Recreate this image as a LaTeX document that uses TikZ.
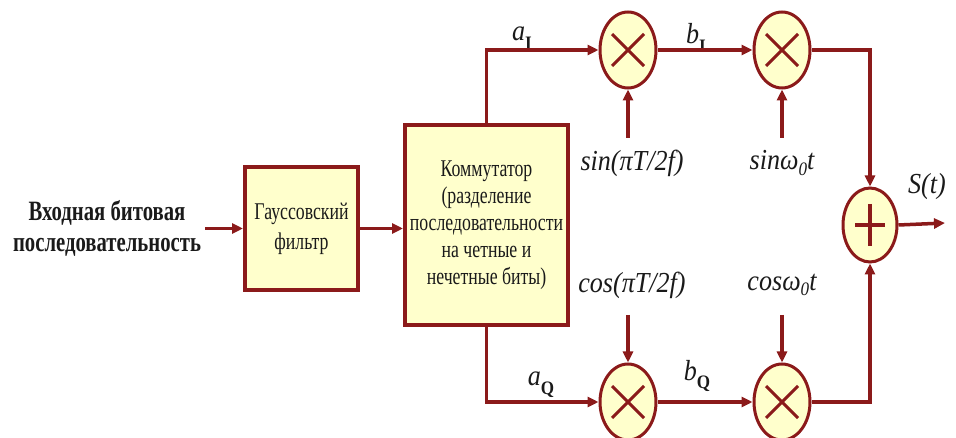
\documentclass[tikz,border=0pt]{standalone}
\usepackage{fontspec}
\setmainfont{Liberation Serif}
\newfontfamily\narrowserif[FakeStretch=0.74]{Liberation Serif}
\newfontfamily\labelserif[FakeStretch=0.9]{Liberation Serif}
\usetikzlibrary{arrows.meta,shapes.geometric}
\definecolor{linered}{HTML}{8B1A1A}
\definecolor{boxfill}{HTML}{FFFFCC}
\definecolor{ink}{HTML}{1A1A1A}
\tikzset{
  wire/.style={draw=linered, line width=3.5pt, -{Triangle[length=11pt,width=10pt]}},
  block/.style={draw=linered, fill=boxfill, line width=4pt, rectangle, inner sep=0pt,
    align=center, text=ink, font=\narrowserif\fontsize{24}{27}\selectfont},
  mixer/.style={draw=linered, fill=boxfill, line width=3pt, ellipse,
    minimum width=56pt, minimum height=76pt, inner sep=0pt},
  times/.style={mixer, path picture={\draw[linered, line width=3pt]
    (path picture bounding box.center) +(-16,-16) -- +(16,16) +(-16,16) -- +(16,-16);}},
  plus/.style={mixer, minimum width=54pt, minimum height=74pt, path picture={\draw[linered, line width=3.5pt]
    (path picture bounding box.center) +(-15,0) -- +(15,0) +(0,-21) -- +(0,21);}},
  siglabel/.style={inner sep=0pt, text=ink, font=\labelserif\itshape\fontsize{29}{30}\selectfont},
}
\newcommand{\subup}[1]{\raisebox{-0.3em}{\upshape\bfseries\fontsize{19}{19}\selectfont #1}}
\newcommand{\subzero}{\raisebox{-0.2em}{\fontsize{19}{19}\selectfont 0}}
\begin{document}
\begin{tikzpicture}[x=1pt,y=-1pt]
  \useasboundingbox (0,0) rectangle (956,438);

  % input and processing blocks
  \node[align=center, inner sep=4pt, text=ink, font=\narrowserif\bfseries\fontsize{28}{31}\selectfont] (src) at (107,228)
    {Входная битовая\\последовательность};
  \node[block, minimum width=113pt, minimum height=123pt] (gauss) at (301.5,228.5)
    {Гауссовский\\[3pt]фильтр};
  \node[block, minimum width=163pt, minimum height=200pt] (comm) at (486.5,225)
    {Коммутатор\\(разделение\\последовательности\\на четные и\\нечетные биты)};

  % multipliers and adder
  \node[times] (m1) at (628,50) {};
  \node[times] (m2) at (782,50) {};
  \node[times] (m3) at (628,402) {};
  \node[times] (m4) at (782,402) {};
  \node[plus] (add) at (870,225) {};

  % carrier labels and their feed points
  \node[siglabel] (l1) at (632,163) {sin(πT/2f)};
  \node[siglabel] (l2) at (782,163) {sinω\subzero t};
  \node[siglabel] (l3) at (632,285) {cos(πT/2f)};
  \node[siglabel] (l4) at (782,285) {cosω\subzero t};
  \coordinate (f1) at (628,138);
  \coordinate (f2) at (782,138);
  \coordinate (f3) at (628,315);
  \coordinate (f4) at (782,315);
  \coordinate (out) at (945,223);

  % signal path labels
  \node[siglabel] (aI) at (522,38) {a\subup{I}};
  \node[siglabel] (bI) at (696,38) {b\subup{I}};
  \node[siglabel] (aQ) at (541,385) {a\subup{Q}};
  \node[siglabel] (bQ) at (697,376) {b\subup{Q}};
  \node[siglabel] (st) at (927,187) {S(t)};

  % connectors
  \draw[wire] (src.east |- gauss.west) -- (gauss.west);
  \draw[wire] (gauss.east) -- (comm.west |- gauss.east);
  \draw[wire] (comm.north) |- (m1.west);
  \draw[wire] (comm.south) |- (m3.west);
  \draw[wire] (m1) -- (m2);
  \draw[wire] (m3) -- (m4);
  \draw[wire] (f1) -- (m1.south);
  \draw[wire] (f2) -- (m2.south);
  \draw[wire] (f3) -- (m3.north);
  \draw[wire] (f4) -- (m4.north);
  \draw[wire] (m2.east) -| (add.north);
  \draw[wire] (m4.east) -| (add.south);
  \draw[wire] (add.east) -- (out);
\end{tikzpicture}
\end{document}
